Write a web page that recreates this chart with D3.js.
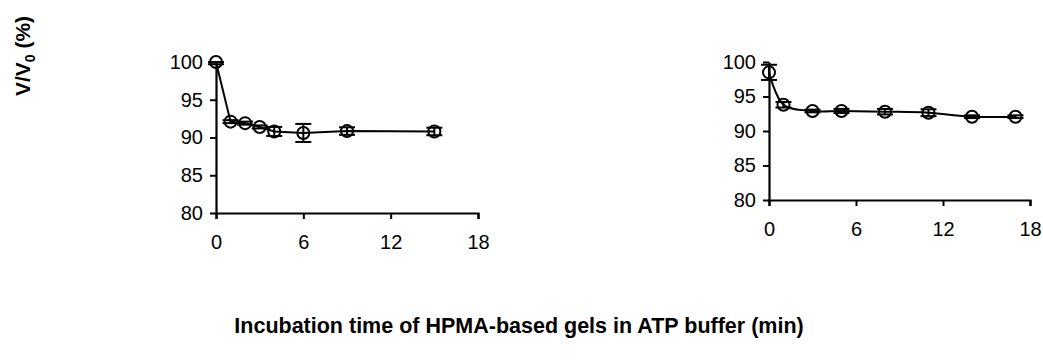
<!DOCTYPE html>
<html>
<head>
<meta charset="utf-8">
<script src="https://cdn.jsdelivr.net/npm/d3@7"></script>
<style>
body { margin: 0; background: #fff; }
text { font-family: "Liberation Sans", Arial, sans-serif; }
</style>
</head>
<body>
<script>
// left panel
var timeA = [0, 1, 2, 3, 4, 6, 9, 15];
var valA = [100, 92.1, 91.9, 91.4, 90.8, 90.6, 90.85, 90.8];
var errA = [0.3, 0.2, 0.2, 0.2, 0.6, 1.2, 0.5, 0.5];
// right panel
var timeB = [0, 1, 3, 5, 8, 11, 14, 17];
var valB = [98.5, 93.8, 92.9, 92.9, 92.8, 92.65, 92.07, 92.07];
var errB = [1.1, 0.4, 0.2, 0.3, 0.4, 0.5, 0.2, 0.2];

var xTicks = [0, 6, 12, 18];
var yTicks = [80, 85, 90, 95, 100];

var svg = d3.select("body").append("svg")
    .attr("width", 1043)
    .attr("height", 364);

var panel = function(times, vals, errs, xr, yr, curve) {
  var x = d3.scaleLinear().domain([0, 18]).range(xr);
  var y = d3.scaleLinear().domain([80, 100]).range(yr);
  var g = svg.append("g");

  var ax = g.append("g")
      .attr("transform", "translate(0," + yr[0] + ")")
      .call(d3.axisBottom(x).tickValues(xTicks).tickSize(6).tickSizeOuter(6).tickPadding(16));
  var ay = g.append("g")
      .attr("transform", "translate(" + xr[0] + ",0)")
      .call(d3.axisLeft(y).tickValues(yTicks).tickSize(6).tickSizeOuter(0).tickPadding(7));
  [ax, ay].forEach(function(a) {
    a.select(".domain").attr("stroke", "#000").attr("stroke-width", 2.2);
    a.selectAll(".tick line").attr("stroke", "#000").attr("stroke-width", 2);
    a.selectAll("text").attr("fill", "#000").style("font-size", "20px");
  });

  var pts = times.map(function(t, i) { return {t: t, v: vals[i], e: errs[i]}; });

  g.append("path")
      .datum(pts)
      .attr("fill", "none")
      .attr("stroke", "#000")
      .attr("stroke-width", 2)
      .attr("d", d3.line().curve(curve)
        .x(function(d) { return x(d.t); })
        .y(function(d) { return y(d.v); }));

  // error bars, capped at the top of the axis
  var eb = g.selectAll(".eb").data(pts).enter().append("g");
  eb.append("line")
      .attr("x1", function(d) { return x(d.t); })
      .attr("x2", function(d) { return x(d.t); })
      .attr("y1", function(d) { return y(Math.min(100, d.v + d.e)); })
      .attr("y2", function(d) { return y(d.v - d.e); })
      .attr("stroke", "#000").attr("stroke-width", 2);
  eb.append("line")
      .attr("x1", function(d) { return x(d.t) - 8; })
      .attr("x2", function(d) { return x(d.t) + 8; })
      .attr("y1", function(d) { return y(d.v - d.e); })
      .attr("y2", function(d) { return y(d.v - d.e); })
      .attr("stroke", "#000").attr("stroke-width", 2);
  eb.append("line")
      .attr("x1", function(d) { return x(d.t) - 8; })
      .attr("x2", function(d) { return x(d.t) + 8; })
      .attr("y1", function(d) { return y(Math.min(100, d.v + d.e)); })
      .attr("y2", function(d) { return y(Math.min(100, d.v + d.e)); })
      .attr("stroke", "#000").attr("stroke-width", 2);

  g.selectAll("circle").data(pts).enter().append("circle")
      .attr("cx", function(d) { return x(d.t); })
      .attr("cy", function(d) { return y(d.v); })
      .attr("r", 6)
      .attr("fill", "none")
      .attr("stroke", "#000")
      .attr("stroke-width", 2);
};

panel(timeA, valA, errA, [216, 478], [213, 62], d3.curveLinear);
panel(timeB, valB, errB, [769, 1030], [200, 62], d3.curveCatmullRom.alpha(0.5));

svg.append("text")
    .attr("transform", "translate(30,56) rotate(-90)")
    .attr("text-anchor", "middle")
    .style("font-size", "21px")
    .style("font-weight", "bold")
    .html("V/V<tspan font-size='14px' dy='5'>0</tspan><tspan dy='-5'> (%)</tspan>");

svg.append("text")
    .attr("x", 519)
    .attr("y", 333)
    .attr("text-anchor", "middle")
    .style("font-size", "21.5px")
    .style("font-weight", "bold")
    .text("Incubation time of HPMA-based gels in ATP buffer (min)");
</script>
</body>
</html>
